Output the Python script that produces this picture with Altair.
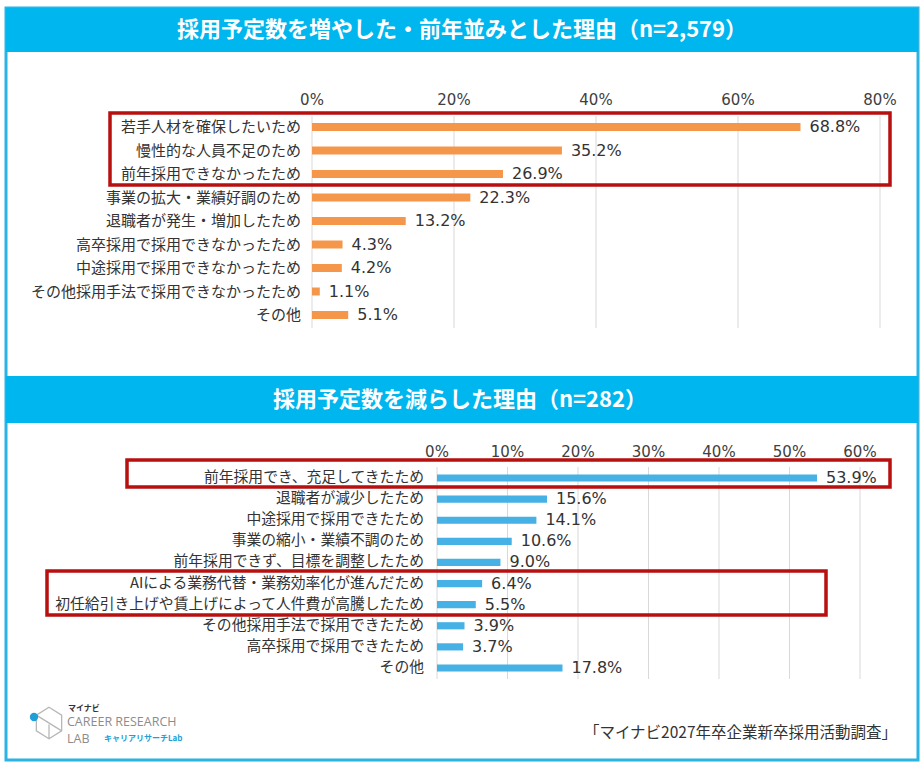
import altair as alt
import pandas as pd

# ---------------- data ----------------
p1_categories = [
    "若手人材を確保したいため",
    "慢性的な人員不足のため",
    "前年採用できなかったため",
    "事業の拡大・業績好調のため",
    "退職者が発生・増加したため",
    "高卒採用で採用できなかったため",
    "中途採用で採用できなかったため",
    "その他採用手法で採用できなかったため",
    "その他",
]
p1_values = [68.8, 35.2, 26.9, 22.3, 13.2, 4.3, 4.2, 1.1, 5.1]
p1_ticks = [0, 20, 40, 60, 80]

p2_categories = [
    "前年採用でき、充足してきたため",
    "退職者が減少したため",
    "中途採用で採用できたため",
    "事業の縮小・業績不調のため",
    "前年採用できず、目標を調整したため",
    "AIによる業務代替・業務効率化が進んだため",
    "初任給引き上げや賃上げによって人件費が高騰したため",
    "その他採用手法で採用できたため",
    "高卒採用で採用できたため",
    "その他",
]
p2_values = [53.9, 15.6, 14.1, 10.6, 9.0, 6.4, 5.5, 3.9, 3.7, 17.8]
p2_ticks = [0, 10, 20, 30, 40, 50, 60]

title1 = "採用予定数を増やした・前年並みとした理由（n=2,579）"
title2 = "採用予定数を減らした理由（n=282）"
source_text = "「マイナビ2027年卒企業新卒採用活動調査」"
logo_top = "マイナビ"
logo_main = "CAREER RESEARCH"
logo_lab = "LAB"
logo_sub = "キャリアリサーチLab"

# ---------------- styles ----------------
JP = "Noto Sans CJK JP"
NUM = "DejaVu Sans"
FRAME = "#2AB4E4"
BANNER = "#00B6EE"
RED = "#B80F0F"
GRID = "#D9D9D9"
TXT = "#333333"

one = pd.DataFrame({"k": [0]})


def deco_rect(x, x2, y, y2, **kw):
    return alt.Chart(one).mark_rect(**kw).encode(
        x=alt.value(x), x2=alt.value(x2), y=alt.value(y), y2=alt.value(y2)
    )


def deco_text(text, x, y, **kw):
    return alt.Chart(pd.DataFrame({"t": [text]})).mark_text(**kw).encode(
        x=alt.value(x), y=alt.value(y), text="t:N"
    )


def panel(cats, vals, ticks, xr, yr, grid_y, tick_y, label_x, color, label_size):
    df = pd.DataFrame({"cat": cats, "val": vals})
    tdf = pd.DataFrame({"tick": ticks, "lab": [f"{t}%" for t in ticks]})
    xs = alt.Scale(domain=[ticks[0], ticks[-1]], range=xr)
    ys = alt.Scale(domain=cats, range=yr, paddingInner=0.66, paddingOuter=0.33)
    X = lambda f: alt.X(f, scale=xs, axis=None)
    Y = alt.Y("cat:N", scale=ys, axis=None, sort=None)
    grid = alt.Chart(tdf).mark_rule(color=GRID, strokeWidth=1).encode(
        x=X("tick:Q"), y=alt.value(grid_y[0]), y2=alt.value(grid_y[1])
    )
    tl = alt.Chart(tdf).mark_text(font=NUM, fontSize=15, color="#404040").encode(
        x=X("tick:Q"), y=alt.value(tick_y), text="lab:N"
    )
    bars = alt.Chart(df).mark_bar(color=color).encode(x=X("val:Q"), y=Y)
    vl = (
        alt.Chart(df)
        .transform_calculate(lab="format(datum.val, '.1f') + '%'")
        .mark_text(font=NUM, fontSize=16, align="left", dx=9, color=TXT)
        .encode(x=X("val:Q"), y=Y, text="lab:N")
    )
    cl = alt.Chart(df).mark_text(font=JP, fontSize=label_size, align="right", color=TXT).encode(
        x=alt.value(label_x), y=Y, text="cat:N"
    )
    return [grid, tl, bars, vl, cl]


layers = []
# frame and banners
layers.append(deco_rect(6, 918, 8, 760, fill="white", stroke=FRAME, strokeWidth=3))
layers.append(deco_rect(6, 918, 8, 52, fill=BANNER))
layers.append(deco_rect(6, 918, 376, 423, fill=BANNER))
layers.append(deco_text(title1, 462, 30, font=JP, fontSize=22, fontWeight="bold", color="white"))
layers.append(deco_text(title2, 460, 400, font=JP, fontSize=22, fontWeight="bold", color="white"))

# panels
layers += panel(p1_categories, p1_values, p1_ticks, [312, 880], [115.25, 326.75],
                (116, 328), 100, 301, "#F5974A", 15)
layers += panel(p2_categories, p2_values, p2_ticks, [437, 860], [467.45, 678.55],
                (467, 679), 452, 424, "#45B1E4", 14.8)

# highlight boxes
layers.append(deco_rect(110, 890, 113, 185, fill=None, fillOpacity=0, stroke=RED, strokeWidth=3.5))
layers.append(deco_rect(127, 890, 460, 487, fill=None, fillOpacity=0, stroke=RED, strokeWidth=3.5))
layers.append(deco_rect(47, 826, 571, 615, fill=None, fillOpacity=0, stroke=RED, strokeWidth=3.5))

# logo
cube = "M0,-1 L0.8,-0.5 L0.8,0.5 L0,1 L-0.8,0.5 L-0.8,-0.5 Z M-0.8,-0.5 L0.8,0.5 M0,1 L0,0.1"
layers.append(alt.Chart(one).mark_point(shape=cube, filled=False, stroke="#9A9A9A", strokeWidth=1.3,
                                        size=1000).encode(x=alt.value(49), y=alt.value(723)))
layers.append(alt.Chart(one).mark_point(shape="circle", filled=True, color="#1E9FD8", opacity=1,
                                        size=70).encode(x=alt.value(34), y=alt.value(717)))
layers.append(deco_text(logo_top, 68, 709, font=JP, fontSize=8, fontWeight="bold", color=TXT, align="left"))
layers.append(deco_text(logo_main, 67, 722, font="Open Sans", fontSize=12.5, color="#8C8C8C", align="left"))
layers.append(deco_text(logo_lab, 67, 739, font="Open Sans", fontSize=12.5, color="#8C8C8C", align="left"))
layers.append(deco_text(logo_sub, 104, 739, font=JP, fontSize=8, fontWeight="bold", color="#1E9FD8", align="left"))

# source
layers.append(deco_text(source_text, 897, 733, font=JP, fontSize=15.5, color=TXT, align="right"))

chart = (
    alt.layer(*layers)
    .resolve_scale(x="independent", y="independent")
    .properties(width=924, height=771, autosize=alt.AutoSizeParams(type="none"), padding=0)
    .configure_view(stroke=None)
)

chart.save("out.html", embed_options={"renderer": "svg", "actions": False})
